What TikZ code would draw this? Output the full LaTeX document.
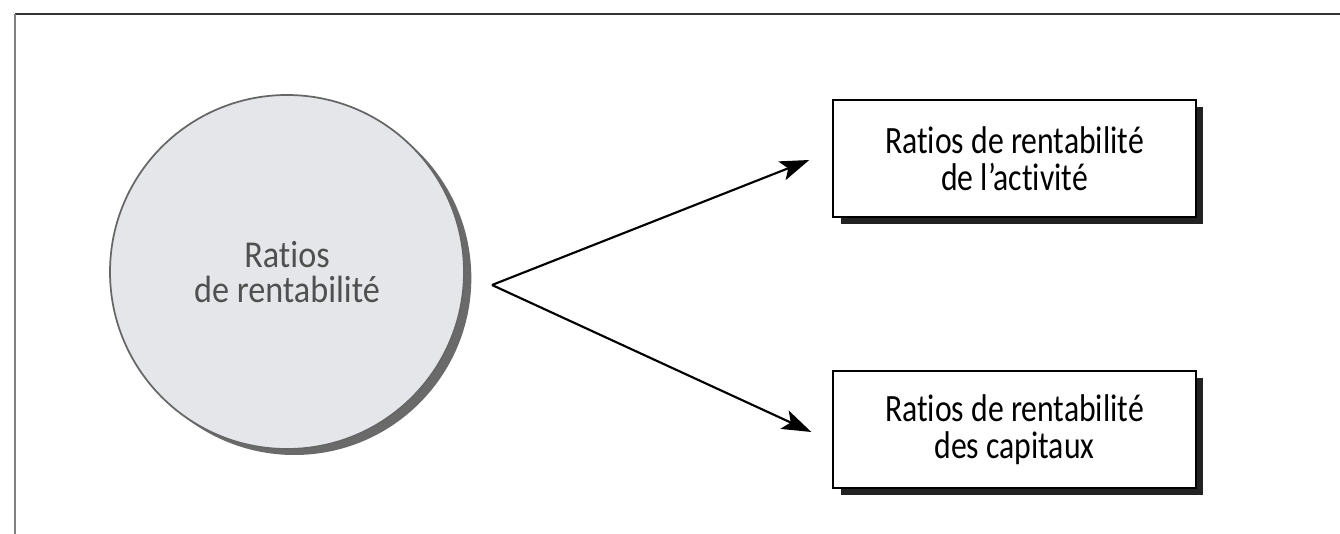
\documentclass[tikz,border=0pt]{standalone}
\usepackage{fontspec}
\newfontfamily\diagfont[FakeStretch=0.82,Ligatures={NoCommon}]{Carlito}
\newfontfamily\circfont[FakeStretch=0.9,Ligatures={NoCommon}]{Carlito}
\usetikzlibrary{arrows.meta,shadows,calc}
\definecolor{circfill}{HTML}{E4E6EA}
\definecolor{circline}{HTML}{666666}
\definecolor{circshadow}{HTML}{6A6A6A}
\definecolor{circtext}{HTML}{505050}
\definecolor{boxshadow}{HTML}{222222}
\tikzset{
  ratiobox/.style={draw=black, line width=1.3pt, fill=white, rectangle,
    minimum width=272pt, minimum height=87.75pt, inner sep=0pt, align=center,
    font=\diagfont\fontsize{29pt}{27.75pt}\selectfont,
    drop shadow={shadow xshift=5.5pt, shadow yshift=-5.5pt, fill=boxshadow, opacity=1}},
  ratiocircle/.style={circle, draw=circline, line width=1.3pt, fill=circfill,
    minimum size=265.5pt, inner sep=0pt, align=center, text=circtext,
    font=\circfont\fontsize{28.5pt}{26.25pt}\selectfont,
    drop shadow={shadow xshift=5.5pt, shadow yshift=-4.5pt, fill=circshadow, opacity=1}},
  arr/.style={draw=black, line width=1.6pt, -{Stealth[length=22pt,width=15pt,inset=5pt]}},
}
\begin{document}
\begin{tikzpicture}[x=0.75pt,y=-0.75pt]
\useasboundingbox (0,0) rectangle (1340,534);
\fill[white] (0,0) rectangle (1340,534);
% frame
\draw[line width=1.6pt, black!80] (15,14) -- (1340,14);
\draw[line width=2.2pt, black!50] (15,14) -- (15,534);
% nodes
\node[ratiocircle] (c) at (287,272) {Ratios\\de rentabilité};
\node[ratiobox] (b1) at (1014.5,158.5) {Ratios de rentabilité\\de l’activité};
\node[ratiobox] (b2) at (1014.5,429.5) {Ratios de rentabilité\\des capitaux};
\coordinate (o) at (492,285);
\coordinate (t1) at ($(b1.west)+(-23,1.5)$);
\coordinate (t2) at ($(b2.west)+(-21,2.5)$);
\draw[arr] (o) -- (t1);
\draw[arr] (o) -- (t2);
\end{tikzpicture}
\end{document}
